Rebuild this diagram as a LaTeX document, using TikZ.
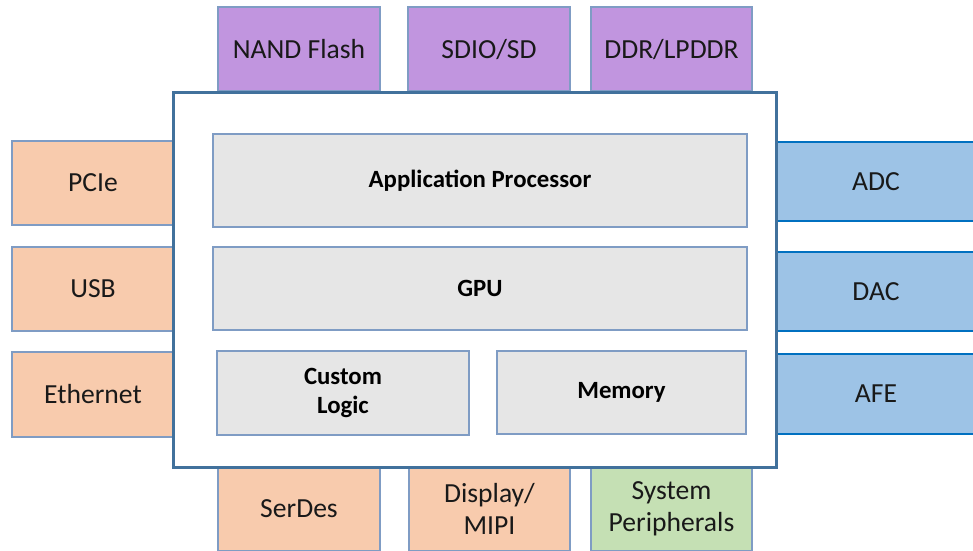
\documentclass[tikz,border=0pt]{standalone}
\usepackage{fontspec}
\setmainfont{Carlito}
\definecolor{ifpurple}{HTML}{C195DF}
\definecolor{iforange}{HTML}{F8CBAD}
\definecolor{ifblue}{HTML}{9DC3E6}
\definecolor{ifgreen}{HTML}{C5E0B4}
\definecolor{blockgrey}{HTML}{E6E6E6}
\definecolor{thinedge}{HTML}{7F9CC4}
\definecolor{analogedge}{HTML}{0070C0}
\definecolor{chipedge}{HTML}{41719C}
\tikzset{
  periph/.style={draw=thinedge, line width=1.2pt, inner sep=0pt, outer sep=0pt,
    align=center, font=\fontsize{27.6}{32}\selectfont, text=black!90},
  analog/.style={periph, draw=analogedge, line width=2.2pt, fill=ifblue},
  chip/.style={draw=chipedge, line width=3pt, fill=white, inner sep=0pt, outer sep=0pt},
  block/.style={draw=thinedge, line width=1.2pt, fill=blockgrey, inner sep=0pt, outer sep=0pt,
    align=center, font=\fontsize{24.8}{28.5}\selectfont\bfseries}
}
\begin{document}
\begin{tikzpicture}[x=1pt, y=-1pt]
  \clip (0,0) rectangle (973,550);
  \fill[white] (0,0) rectangle (973,550);

  % memory interfaces on top
  \node[periph, fill=ifpurple, minimum width=162, minimum height=84] (nand) at (299,49) {NAND Flash};
  \node[periph, fill=ifpurple, minimum width=162, minimum height=84] (sdio) at (489,49) {SDIO/SD};
  \node[periph, fill=ifpurple, minimum width=161, minimum height=84] (ddr) at (671.5,49) {DDR/LPDDR};

  % high-speed interfaces on the left
  \node[periph, fill=iforange, minimum width=162, minimum height=84] (pcie) at (93,183) {PCIe};
  \node[periph, fill=iforange, minimum width=162, minimum height=84] (usb) at (93,289) {USB};
  \node[periph, fill=iforange, minimum width=162, minimum height=85] (eth) at (93,394.5) {Ethernet};

  % analog blocks on the right
  \node[analog, minimum width=202, minimum height=79] (adc) at (876,181.5) {ADC};
  \node[analog, minimum width=202, minimum height=79] (dac) at (876,291.5) {DAC};
  \node[analog, minimum width=202, minimum height=80] (afe) at (876,394) {AFE};

  % interfaces at the bottom
  \node[periph, fill=iforange, minimum width=162, minimum height=84] (serdes) at (299,509) {SerDes};
  \node[periph, fill=iforange, minimum width=161, minimum height=84] (mipi) at (489.5,509) {Display/\\MIPI};
  \node[periph, fill=ifgreen, minimum width=161, minimum height=84] (sysp) at (671.5,509) {System\\Peripherals};

  % the chip itself
  \node[chip, minimum width=603, minimum height=375] (soc) at (474.5,279.5) {};

  \node[block, minimum width=534, minimum height=93] (ap) at (480,180.5) {Application Processor};
  \node[block, minimum width=534, minimum height=83] (gpu) at (480,288.5) {GPU};
  \node[block, minimum width=252, minimum height=84] (logic) at (343,393) {Custom\\Logic};
  \node[block, minimum width=249, minimum height=83] (mem) at (621.5,392.5) {Memory};
\end{tikzpicture}
\end{document}
